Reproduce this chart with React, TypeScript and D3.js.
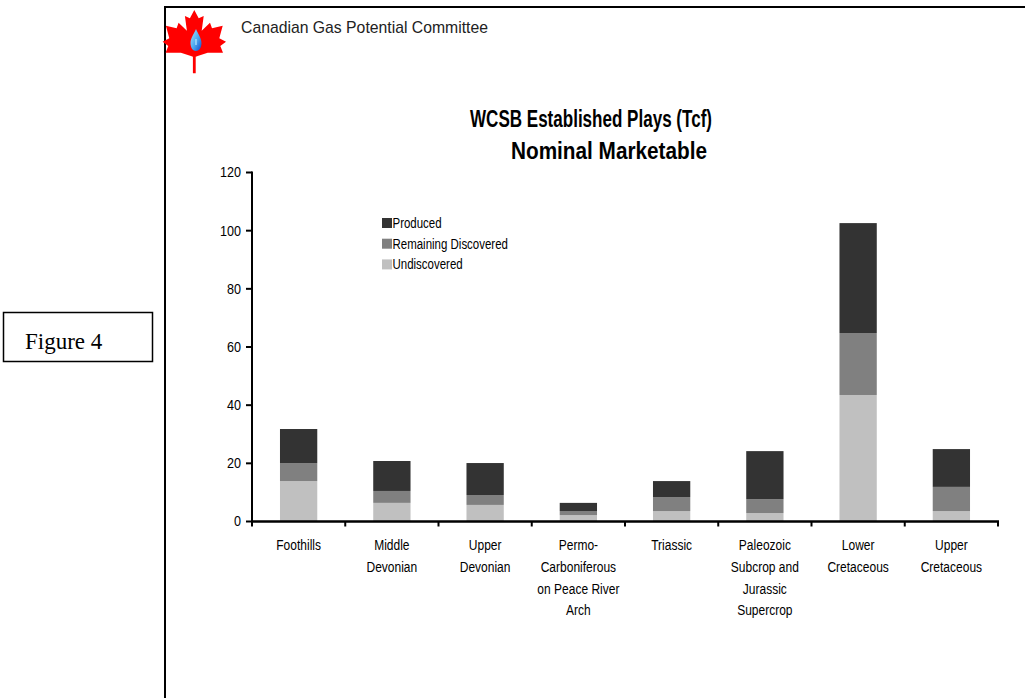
import React from "react";
import * as d3 from "d3";

// Established play groups, WCSB (Tcf)
const categories = [
  "Foothills",
  "Middle Devonian",
  "Upper Devonian",
  "Permo-Carboniferous on Peace River Arch",
  "Triassic",
  "Paleozoic Subcrop and Jurassic Supercrop",
  "Lower Cretaceous",
  "Upper Cretaceous",
];
const categoryLines = [
  ["Foothills"],
  ["Middle", "Devonian"],
  ["Upper", "Devonian"],
  ["Permo-", "Carboniferous", "on Peace River", "Arch"],
  ["Triassic"],
  ["Paleozoic", "Subcrop and", "Jurassic", "Supercrop"],
  ["Lower", "Cretaceous"],
  ["Upper", "Cretaceous"],
];
const undiscovered = [13.9, 6.4, 5.7, 2.2, 3.6, 2.9, 43.5, 3.6];
const remainingDiscovered = [6.2, 4.1, 3.4, 1.4, 4.8, 4.8, 21.3, 8.3];
const produced = [11.7, 10.3, 11.0, 2.8, 5.5, 16.5, 37.8, 13.0];
const yTicks = [0, 20, 40, 60, 80, 100, 120];

const seriesKeys = ["undiscovered", "remaining", "produced"];
const seriesColors: Record<string, string> = {
  produced: "#333333",
  remaining: "#808080",
  undiscovered: "#c0c0c0",
};
const legendItems = [
  { key: "produced", label: "Produced" },
  { key: "remaining", label: "Remaining Discovered" },
  { key: "undiscovered", label: "Undiscovered" },
];

const SANS = "'Liberation Sans', Arial, sans-serif";
const NARROW_SCALE = 0.8;

// maple leaf outline, right half in a 0..65 local grid (x centre 33.3)
const leafRight: [number, number][] = [
  [33.3, 0], [37.7, 8.3], [42.7, 6], [40.7, 20.7], [49, 12.7], [51, 18.3],
  [61.7, 15.7], [58.3, 28.3], [65, 31.7], [59.3, 36], [62, 42.7], [46.7, 42.7],
  [36.7, 46], [34.7, 46.7], [34.7, 63.3],
];

function leafPath(): string {
  const cx = 33.3;
  const left = [...leafRight].reverse().map(([px, py]) => [2 * cx - px, py] as [number, number]);
  return d3.line()([...leafRight, ...left]) + "Z";
}

export default function App() {
  const width = 1026;
  const height = 698;

  const x = d3.scaleBand<string>().domain(categories).range([252, 998]).padding(0);
  const y = d3.scaleLinear().domain([0, 120]).range([521.5, 172.5]);
  const bw = x.bandwidth();
  const barW = bw * 0.4;

  const rows = categories.map((c, i) => ({
    category: c,
    undiscovered: undiscovered[i],
    remaining: remainingDiscovered[i],
    produced: produced[i],
  }));
  const stacked = d3.stack<any>().keys(seriesKeys)(rows);

  const boundaries = categories.map((c) => x(c)!).concat([998]);

  return (
    <svg
      width={width}
      height={height}
      style={{ position: "absolute", left: 0, top: 0, background: "#fff" }}
    >
      {/* page frame */}
      <line x1={164} y1={7} x2={1025} y2={7} stroke="#000" strokeWidth={2} />
      <line x1={165} y1={6} x2={165} y2={698} stroke="#000" strokeWidth={2} />

      {/* logo */}
      <defs>
        <linearGradient id="dropGrad" x1="0" y1="0" x2="1" y2="1">
          <stop offset="0%" stopColor="#a8e4ff" />
          <stop offset="55%" stopColor="#4aa8f0" />
          <stop offset="100%" stopColor="#1446c8" />
        </linearGradient>
      </defs>
      <g transform="translate(161,10)">
        <path d={leafPath()} fill="#ff0000" />
        <path
          d="M35,19 C33,24 29.5,28 29.5,33 C29.5,38 32,41 35,41 C38,41 40.5,38 40.5,33 C40.5,28 37,24 35,19 Z"
          fill="url(#dropGrad)"
        />
        <line x1={35} y1={29} x2={35} y2={35} stroke="#d8f4ff" strokeWidth={1} />
      </g>
      <text
        x={241}
        y={33}
        fontFamily={SANS}
        fontSize={17}
        fill="#222"
        textLength={247}
        lengthAdjust="spacingAndGlyphs"
      >
        Canadian Gas Potential Committee
      </text>

      {/* figure label box */}
      <rect x={3.5} y={312.5} width={149} height={49} fill="none" stroke="#000" strokeWidth={1.5} />
      <text x={25} y={349} fontFamily="'Liberation Serif', 'Times New Roman', serif" fontSize={23} fill="#000">
        Figure 4
      </text>

      {/* title */}
      <text
        x={470}
        y={127}
        fontFamily={SANS}
        fontWeight="bold"
        fontSize={23}
        textLength={242}
        lengthAdjust="spacingAndGlyphs"
        fill="#000"
      >
        WCSB Established Plays (Tcf)
      </text>
      <text
        x={511}
        y={159}
        fontFamily={SANS}
        fontWeight="bold"
        fontSize={23}
        textLength={196}
        lengthAdjust="spacingAndGlyphs"
        fill="#000"
      >
        Nominal Marketable
      </text>

      {/* bars */}
      {stacked.map((s) => (
        <g key={s.key} fill={seriesColors[s.key]}>
          {s.map((d, i) => (
            <rect
              key={i}
              x={x(categories[i])! + (bw - barW) / 2}
              y={y(d[1])}
              width={barW}
              height={y(d[0]) - y(d[1])}
            />
          ))}
        </g>
      ))}

      {/* y axis */}
      <line x1={252} y1={y(120) - 1} x2={252} y2={y(0) + 1} stroke="#000" strokeWidth={2} />
      {yTicks.map((t) => (
        <g key={t}>
          <line x1={246} x2={252} y1={y(t)} y2={y(t)} stroke="#000" strokeWidth={2} />
          <g transform={`translate(241, ${y(t)}) scale(0.9, 1)`}>
            <text x={0} y={0} dy="0.35em" textAnchor="end" fontFamily={SANS} fontSize={14} fill="#000">
              {t}
            </text>
          </g>
        </g>
      ))}

      {/* x axis */}
      <line x1={251} y1={y(0)} x2={999} y2={y(0)} stroke="#000" strokeWidth={2.5} />
      {boundaries.map((b, i) => (
        <line key={i} x1={b} x2={b} y1={y(0)} y2={y(0) + 5} stroke="#000" strokeWidth={2} />
      ))}
      {categoryLines.map((lines, i) => (
        <g key={i} transform={`translate(${x(categories[i])! + bw / 2}, 0) scale(${NARROW_SCALE}, 1)`}>
          <text textAnchor="middle" fontFamily={SANS} fontSize={15} fill="#000">
            {lines.map((ln, j) => (
              <tspan key={j} x={0} y={550 + j * 21.8}>
                {ln}
              </tspan>
            ))}
          </text>
        </g>
      ))}

      {/* legend */}
      {legendItems.map((it, i) => (
        <g key={it.key} transform={`translate(382, ${218 + i * 20.7})`}>
          <rect x={0} y={0} width={10} height={10} fill={seriesColors[it.key]} />
          <g transform={`translate(10.5, 10) scale(0.82, 1)`}>
            <text x={0} y={0} fontFamily={SANS} fontSize={14} fill="#000">
              {it.label}
            </text>
          </g>
        </g>
      ))}
    </svg>
  );
}
